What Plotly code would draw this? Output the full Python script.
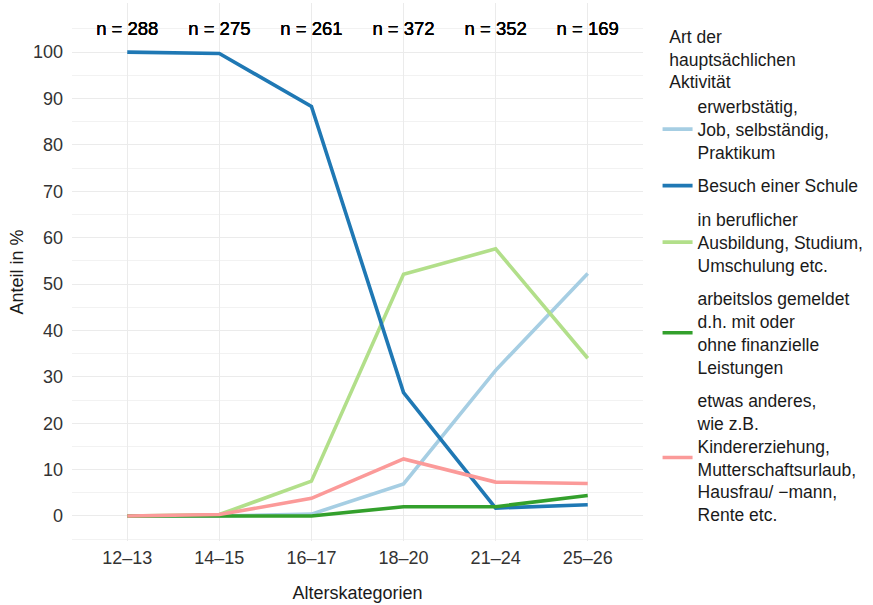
import plotly.graph_objects as go

categories = ["12–13", "14–15", "16–17", "18–20", "21–24", "25–26"]
n_labels = ["n = 288", "n = 275", "n = 261", "n = 372", "n = 352", "n = 169"]

series_names = [
    "erwerbstätig,<br>Job, selbständig,<br>Praktikum",
    "Besuch einer Schule",
    "in beruflicher<br>Ausbildung, Studium,<br>Umschulung etc.",
    "arbeitslos gemeldet<br>d.h. mit oder<br>ohne finanzielle<br>Leistungen",
    "etwas anderes,<br>wie z.B.<br>Kindererziehung,<br>Mutterschaftsurlaub,<br>Hausfrau/ −mann,<br>Rente etc.",
]
legend_title_lines = ["Art der", "hauptsächlichen", "Aktivität"]
erwerbstaetig = [0.0, 0.0, 0.4, 6.9, 31.4, 52.3]
schule = [100.0, 99.7, 88.3, 26.6, 1.7, 2.4]
ausbildung = [0.0, 0.3, 7.5, 52.1, 57.6, 34.0]
arbeitslos = [0.0, 0.0, 0.0, 2.0, 2.0, 4.4]
anderes = [0.0, 0.3, 3.8, 12.3, 7.3, 7.0]
values = [erwerbstaetig, schule, ausbildung, arbeitslos, anderes]
colors = ["#A6CEE3", "#1F78B4", "#B2DF8A", "#33A02C", "#FB9A99"]
label_y = 104.8

font = "Liberation Sans, Arial, Helvetica, sans-serif"

fig = go.Figure()
for i in [0, 2, 1, 3, 4]:
    fig.add_trace(go.Scatter(
        x=categories, y=values[i], mode="lines", name=series_names[i],
        line=dict(color=colors[i], width=3.6),
        legendgroup=str(i), legendrank=i + 1,
    ))

fig.add_trace(go.Scatter(
    x=categories, y=[label_y] * len(categories), mode="text", text=n_labels,
    textfont=dict(family=font, size=18.5, color="#000000",
                  shadow="0px 0px 0.4px #000, 0px 0px 0.4px #000"),
    showlegend=False, hoverinfo="skip",
))

legend_title = "<br>".join("\u00a0\u00a0" + s for s in legend_title_lines)

fig.update_layout(
    width=873, height=605,
    margin=dict(l=72, r=230, t=3, b=64, autoexpand=False),
    plot_bgcolor="white", paper_bgcolor="white",
    font=dict(family=font, size=18, color="#1a1a1a"),
    xaxis=dict(
        title=dict(text="Alterskategorien", font=dict(size=18, color="#1a1a1a"), standoff=19),
        range=[-0.6, 5.6], showgrid=True, gridcolor="#EBEBEB", gridwidth=1.2,
        zeroline=False, showline=False, ticks="", tickfont=dict(size=18, color="#333333"),
        type="category", automargin=False, ticklabelstandoff=4,
    ),
    yaxis=dict(
        title=dict(text="Anteil in %", font=dict(size=18, color="#1a1a1a"), standoff=4),
        range=[-5.4, 110.6], tickmode="array", tickvals=list(range(0, 101, 10)),
        showgrid=True, gridcolor="#EBEBEB", gridwidth=1.2,
        minor=dict(tickvals=[v + 5 for v in range(-10, 101, 10)], showgrid=True,
                   gridcolor="#F2F2F2", gridwidth=1),
        zeroline=False, showline=False, ticks="", tickfont=dict(size=18, color="#333333"),
        automargin=False, ticklabelstandoff=8,
    ),
    legend=dict(
        x=1.0255, y=0.968, xanchor="left", yanchor="top",
        title=dict(text=legend_title, font=dict(size=17.5, color="#1a1a1a")),
        font=dict(size=17.5, color="#1a1a1a"), tracegroupgap=8, itemwidth=30,
        bgcolor="rgba(0,0,0,0)",
    ),
    showlegend=True,
)

fig.write_html("out.html", post_script="document.body.style.margin='0';",
               config={"displayModeBar": False})
